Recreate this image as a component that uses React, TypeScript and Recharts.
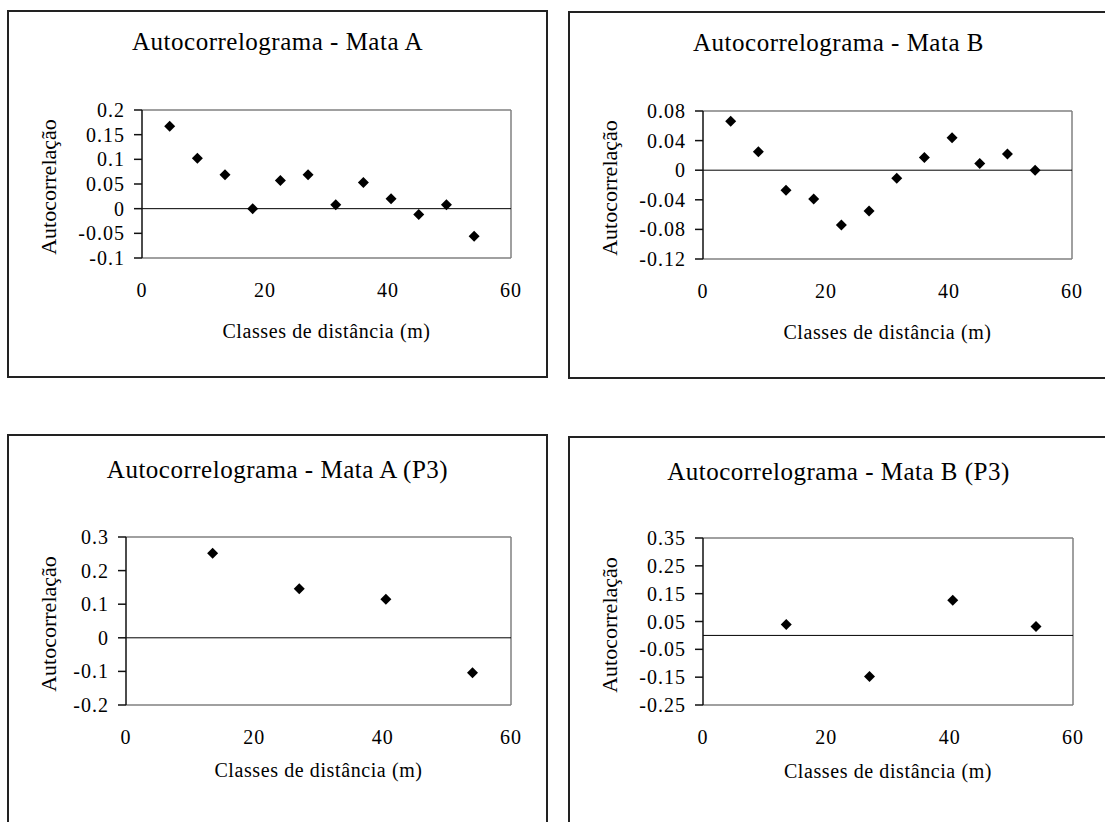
import { ScatterChart, Scatter, XAxis, YAxis, ReferenceLine } from 'recharts'

// distance classes (m)
const distAll = [4.5, 9, 13.5, 18, 22.5, 27, 31.5, 36, 40.5, 45, 49.5, 54]
const distP3 = [13.5, 27, 40.5, 54]

// autocorrelation values
const autoMataA = [0.167, 0.102, 0.069, 0.0, 0.057, 0.069, 0.008, 0.053, 0.02, -0.012, 0.008, -0.056]
const autoMataB = [0.066, 0.025, -0.027, -0.039, -0.074, -0.055, -0.011, 0.017, 0.044, 0.009, 0.022, 0.0]
const autoMataAP3 = [0.252, 0.146, 0.115, -0.104]
const autoMataBP3 = [0.039, -0.148, 0.126, 0.032]

// axis ticks
const xTicks = [0, 20, 40, 60]
const yTicksA = [-0.1, -0.05, 0, 0.05, 0.1, 0.15, 0.2]
const yTicksB = [-0.12, -0.08, -0.04, 0, 0.04, 0.08]
const yTicksAP3 = [-0.2, -0.1, 0, 0.1, 0.2, 0.3]
const yTicksBP3 = [-0.25, -0.15, -0.05, 0.05, 0.15, 0.25, 0.35]

const FONT = '"Liberation Serif", "Times New Roman", serif'

const Diamond = (p: any) => {
  const { cx, cy } = p
  const r = 5.5
  return <path d={`M${cx},${cy - r}L${cx + r},${cy}L${cx},${cy + r}L${cx - r},${cy}Z`} fill="#000" />
}

const XTick = ({ x, y, payload }: any) => (
  <text x={x} y={y + 32} textAnchor="middle" dominantBaseline="central"
    style={{ fontFamily: FONT, fontSize: 20, letterSpacing: 1 }} fill="#000">
    {payload.value}
  </text>
)

const YTick = ({ x, y, payload }: any) => (
  <text x={x} y={y} textAnchor="end" dominantBaseline="central"
    style={{ fontFamily: FONT, fontSize: 20, letterSpacing: 1 }} fill="#000">
    {String(payload.value)}
  </text>
)

interface PanelProps {
  left: number
  top: number
  width: number
  height: number
  plot: { left: number; right: number; top: number; bottom: number }
  title: string
  titleY: number
  xTitleY: number
  xs: number[]
  ys: number[]
  yTicks: number[]
}

function Panel({ left, top, width, height, plot, title, titleY, xTitleY, xs, ys, yTicks }: PanelProps) {
  const data = xs.map((x, i) => ({ x, y: ys[i] }))
  const yMin = yTicks[0]
  const yMax = yTicks[yTicks.length - 1]
  const plotMidY = (plot.top + plot.bottom) / 2

  return (
    <div style={{ position: 'absolute', left, top, width, height }}>
      <div style={{
        position: 'absolute', left: 0, top: 0, width, height,
        boxSizing: 'border-box', border: '2px solid #222',
      }} />
      <div style={{ position: 'absolute', left: 0, top: 0 }}>
        <ScatterChart
          width={width}
          height={height}
          margin={{ top: plot.top, right: width - plot.right, bottom: height - plot.bottom - 1, left: 0 }}
        >
          <XAxis
            type="number"
            dataKey="x"
            domain={[0, 60]}
            ticks={xTicks}
            height={1}
            axisLine={false}
            tickLine={false}
            tickSize={0}
            tickMargin={0}
            tick={<XTick />}
          />
          <YAxis
            type="number"
            dataKey="y"
            domain={[yMin, yMax]}
            ticks={yTicks}
            width={plot.left}
            axisLine={{ stroke: '#111', strokeWidth: 1.5 }}
            tickLine={{ stroke: '#111', strokeWidth: 1.5 }}
            tickSize={8}
            tickMargin={9}
            tick={<YTick />}
          />
          <ReferenceLine y={yMax} stroke="#808080" strokeWidth={1.5} />
          <ReferenceLine y={yMin} stroke="#808080" strokeWidth={1.5} />
          <ReferenceLine x={60} stroke="#808080" strokeWidth={1.5} />
          <ReferenceLine y={0} stroke="#000" strokeWidth={1} />
          <Scatter data={data} shape={<Diamond />} isAnimationActive={false} />
        </ScatterChart>
      </div>
      <div style={{
        position: 'absolute', left: 0, top: titleY - 15, width: 541, height: 30,
        textAlign: 'center', fontFamily: FONT, fontSize: 25, lineHeight: '30px',
        letterSpacing: 0.5, color: '#000', whiteSpace: 'nowrap',
      }}>{title}</div>
      <div style={{
        position: 'absolute', left: plot.left, top: xTitleY - 12, width: plot.right - plot.left, height: 24,
        textAlign: 'center', fontFamily: FONT, fontSize: 20, lineHeight: '24px',
        letterSpacing: 0.6, color: '#000', whiteSpace: 'nowrap',
      }}>Classes de distância (m)</div>
      <div style={{
        position: 'absolute', left: 42 - 100, top: plotMidY + 3 - 13, width: 200, height: 26,
        textAlign: 'center', fontFamily: FONT, fontSize: 22, lineHeight: '26px',
        color: '#000', whiteSpace: 'nowrap', transform: 'rotate(-90deg)',
      }}>Autocorrelação</div>
    </div>
  )
}

export default function App() {
  const topPlot = { left: 135, right: 504, top: 100, bottom: 248 }
  const p3PlotA = { left: 119, right: 504, top: 103, bottom: 271 }
  const p3PlotB = { left: 135, right: 505, top: 102, bottom: 269 }
  return (
    <div style={{ position: 'absolute', left: 0, top: 0, width: 1105, height: 822, overflow: 'hidden', background: '#fff' }}>
      <Panel left={7} top={10} width={541} height={368} plot={topPlot}
        title="Autocorrelograma - Mata A" titleY={32} xTitleY={321}
        xs={distAll} ys={autoMataA} yTicks={yTicksA} />
      <Panel left={568} top={11} width={541} height={368} plot={topPlot}
        title="Autocorrelograma - Mata B" titleY={32} xTitleY={321}
        xs={distAll} ys={autoMataB} yTicks={yTicksB} />
      <Panel left={7} top={434} width={541} height={400} plot={p3PlotA}
        title="Autocorrelograma - Mata A (P3)" titleY={36} xTitleY={336}
        xs={distP3} ys={autoMataAP3} yTicks={yTicksAP3} />
      <Panel left={568} top={436} width={541} height={400} plot={p3PlotB}
        title="Autocorrelograma - Mata B (P3)" titleY={36} xTitleY={335}
        xs={distP3} ys={autoMataBP3} yTicks={yTicksBP3} />
    </div>
  )
}
